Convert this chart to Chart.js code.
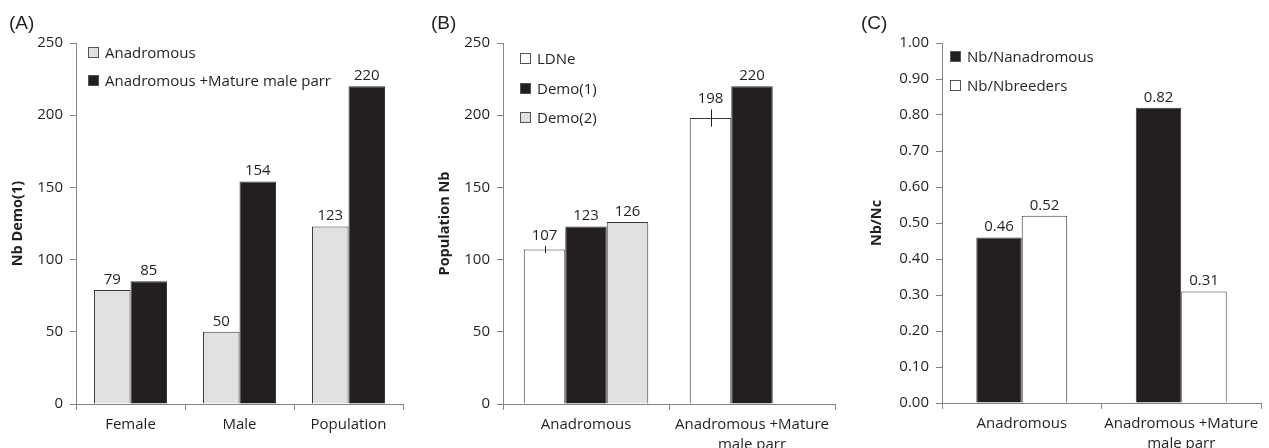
<!DOCTYPE html>
<html>
<head>
<meta charset="utf-8">
<script src="https://cdn.jsdelivr.net/npm/chart.js@4.4.1/dist/chart.umd.min.js"></script>
<style>
  body { margin: 0; background: #fff; width: 1269px; height: 448px; overflow: hidden; position: relative; font-family: "Open Sans", sans-serif; color: #231f20; }
  .panel { position: absolute; top: 0; height: 448px; }
  .tag { position: absolute; top: 12px; font: 19px "Liberation Sans", Arial, sans-serif; color: #231f20; }
  .item { position: absolute; white-space: nowrap; height: 20px; line-height: 20px; font-size: 15px; }
  .item .box { position: absolute; left: 0; top: 5px; width: 9px; height: 9px; border: 1px solid #555; }
  .item .txt { position: absolute; left: 17px; top: 0; }
</style>
</head>
<body>
<div class="panel" style="left:0;width:420px"><canvas id="chartA" width="420" height="448"></canvas></div>
<div class="panel" style="left:420px;width:420px"><canvas id="chartB" width="420" height="448"></canvas></div>
<div class="panel" style="left:840px;width:429px"><canvas id="chartC" width="429" height="448"></canvas></div>
<div class="tag" style="left:9px">(A)</div>
<div class="tag" style="left:431px">(B)</div>
<div class="tag" style="left:861px">(C)</div>
<div id="legends"></div>
<script>
// (A) Nb Demo(1)
const catsA = ['Female', 'Male', 'Population'];
const seriesA = ['Anadromous', 'Anadromous +Mature male parr'];
const anadromousA = [79, 50, 123];
const anadMatureA = [85, 154, 220];
const yTicksA = [0, 50, 100, 150, 200, 250];

// (B) Population Nb
const catsB = ['Anadromous', ['Anadromous +Mature', 'male parr']];
const seriesB = ['LDNe', 'Demo(1)', 'Demo(2)'];
const ldne = [107, 198];
const ldneLow = [104.5, 192];
const ldneHigh = [109.5, 204];
const demo1 = [123, 220];
const demo2 = [126, null];
const yTicksB = [0, 50, 100, 150, 200, 250];

// (C) Nb/Nc
const catsC = ['Anadromous', ['Anadromous +Mature', 'male parr']];
const seriesC = ['Nb/Nanadromous', 'Nb/Nbreeders'];
const nbNanad = [0.46, 0.82];
const nbNbreed = [0.52, 0.31];
const yTicksC = [0, 0.1, 0.2, 0.3, 0.4, 0.5, 0.6, 0.7, 0.8, 0.9, 1.0];

const DARK = '#231f20';
const LIGHT = '#e0e1e3';
const WHITE = '#ffffff';
const EDGE = '#3a3a3a';
const AXIS = '#858585';

Chart.defaults.font.family = '"Open Sans", sans-serif';
Chart.defaults.color = DARK;

// value labels above bars, plus LDNe error lines
const valueLabels = {
    id: 'valueLabels',
    afterDatasetsDraw(chart, args, opts) {
        const ctx = chart.ctx;
        const yScale = chart.scales.y;
        ctx.save();
        ctx.font = '15px "Open Sans", sans-serif';
        ctx.fillStyle = DARK;
        ctx.textAlign = 'center';
        ctx.textBaseline = 'bottom';
        chart.data.datasets.forEach(function(ds, i) {
            const meta = chart.getDatasetMeta(i);
            meta.data.forEach(function(bar, j) {
                const v = ds.data[j];
                if (v === null || v === undefined) return;
                let top = bar.y;
                if (ds.errHigh) {
                    const yl = yScale.getPixelForValue(ds.errLow[j]);
                    const yh = yScale.getPixelForValue(ds.errHigh[j]);
                    ctx.strokeStyle = DARK;
                    ctx.lineWidth = 1;
                    ctx.beginPath();
                    ctx.moveTo(Math.round(bar.x) + 0.5, yl);
                    ctx.lineTo(Math.round(bar.x) + 0.5, yh);
                    ctx.stroke();
                    top = Math.min(top, yh);
                }
                ctx.fillText(v.toFixed(opts.decimals), bar.x, top - 3);
            });
        });
        ctx.restore();
    }
};

function makeChart(id, cats, datasets, yTicks, title, decimals, geo) {
    const ctx = document.getElementById(id).getContext('2d');
    return new Chart(ctx, {
        type: 'bar',
        data: { labels: cats, datasets: datasets },
        options: {
            responsive: false,
            animation: false,
            events: [],
            datasets: {
                bar: {
                    categoryPercentage: geo.catPct,
                    barPercentage: 1.0,
                    borderWidth: 1,
                    borderColor: EDGE
                }
            },
            layout: { padding: { left: 0, top: 43, right: geo.padRight, bottom: 0 } },
            plugins: {
                legend: { display: false },
                tooltip: { enabled: false },
                valueLabels: { decimals: decimals }
            },
            scales: {
                x: {
                    grid: { display: true, drawOnChartArea: false, drawTicks: true, tickLength: 6, color: AXIS },
                    border: { display: true, color: AXIS, width: 1 },
                    ticks: { font: { size: 15, lineHeight: 1.3 }, padding: 5, maxRotation: 0, autoSkip: false },
                    afterFit: function(scale) { scale.height = 448 - geo.bottom; }
                },
                y: {
                    min: yTicks[0],
                    max: yTicks[yTicks.length - 1],
                    ticks: {
                        stepSize: yTicks[1] - yTicks[0],
                        font: { size: 15 },
                        padding: 7,
                        callback: function(value) { return Number(value).toFixed(decimals); }
                    },
                    grid: { display: true, drawOnChartArea: false, drawTicks: true, tickLength: 6, color: AXIS },
                    border: { display: true, color: AXIS, width: 1 },
                    title: {
                        display: true,
                        text: title,
                        font: { size: 14.5, weight: 'bold' },
                        padding: { top: geo.titlePad, bottom: 0 }
                    },
                    afterFit: function(scale) { scale.width = geo.axisW; }
                }
            }
        },
        plugins: [valueLabels]
    });
}

makeChart('chartA', catsA, [
    { label: seriesA[0], data: anadromousA, backgroundColor: LIGHT },
    { label: seriesA[1], data: anadMatureA, backgroundColor: DARK }
], yTicksA, 'Nb Demo(1)', 0, { axisW: 76, padRight: 17, bottom: 404, catPct: 0.67, titlePad: 9 });

makeChart('chartB', catsB, [
    { label: seriesB[0], data: ldne, backgroundColor: WHITE, errLow: ldneLow, errHigh: ldneHigh },
    { label: seriesB[1], data: demo1, backgroundColor: DARK },
    { label: seriesB[2], data: demo2, backgroundColor: LIGHT }
], yTicksB, 'Population Nb', 0, { axisW: 83, padRight: 5, bottom: 404, catPct: 0.75, titlePad: 16 });

makeChart('chartC', catsC, [
    { label: seriesC[0], data: nbNanad, backgroundColor: DARK },
    { label: seriesC[1], data: nbNbreed, backgroundColor: WHITE }
], yTicksC, 'Nb/Nc', 2, { axisW: 102, padRight: 8, bottom: 403, catPct: 0.57, titlePad: 28 });

// legends drawn as html, inside each plot area
function addLegend(names, fills, left, tops) {
    const holder = document.getElementById('legends');
    names.forEach(function(name, i) {
        const item = document.createElement('div');
        item.className = 'item';
        item.style.left = left + 'px';
        item.style.top = (tops[i] - 10) + 'px';
        item.innerHTML = '<span class="box" style="background:' + fills[i] + '"></span><span class="txt"></span>';
        item.querySelector('.txt').textContent = name;
        holder.appendChild(item);
    });
}
addLegend(seriesA, [LIGHT, DARK], 88, [52, 80]);
addLegend(seriesB, [WHITE, DARK, LIGHT], 520, [58, 87.5, 117]);
addLegend(seriesC, [DARK, WHITE], 950, [56, 84.5]);
</script>
</body>
</html>
